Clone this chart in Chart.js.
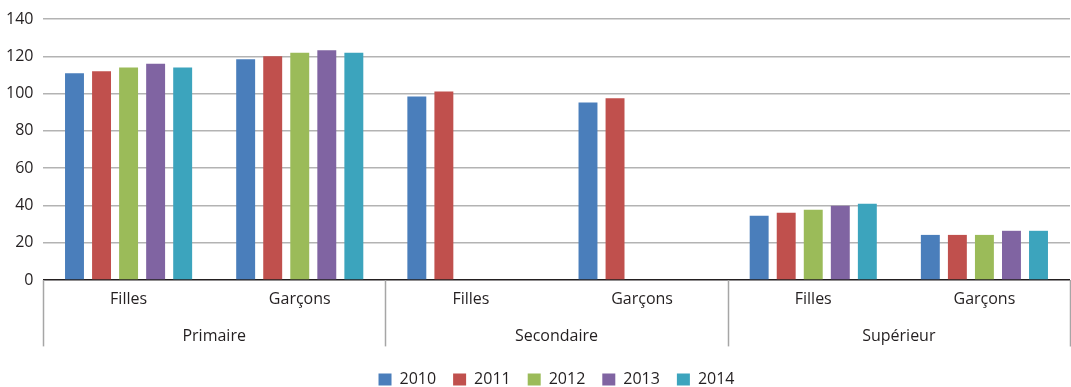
<!DOCTYPE html>
<html>
<head>
<meta charset="utf-8">
<script src="https://cdn.jsdelivr.net/npm/chart.js@4/dist/chart.umd.min.js"></script>
<style>
  html, body { margin: 0; padding: 0; background: #fff; }
  #wrap { width: 1071px; height: 387px; }
</style>
</head>
<body>
<div id="wrap"><canvas id="c"></canvas></div>
<script>
// Enrolment ratios by level and sex
const levels = ['Primaire', 'Secondaire', 'Supérieur'];
const categories = ['Filles', 'Garçons', 'Filles', 'Garçons', 'Filles', 'Garçons'];
const years = ['2010', '2011', '2012', '2013', '2014'];

const v2010 = [111, 118.5, 98.5, 95.3, 34.5, 24.2];
const v2011 = [112, 120, 101.2, 97.5, 36.1, 24.2];
const v2012 = [114, 122, null, null, 37.7, 24.2];
const v2013 = [116, 123.3, null, null, 39.8, 26.4];
const v2014 = [114, 122, null, null, 40.9, 26.4];

const yTicks = [0, 20, 40, 60, 80, 100, 120, 140];
const colors = ['#4a7ebb', '#c0504d', '#9bbb59', '#8064a2', '#3ca4bd'];
const seriesValues = [v2010, v2011, v2012, v2013, v2014];

const textColor = '#231f20';
const font = { family: "'Open Sans', 'Noto Sans', sans-serif", size: 16 };

// Vertical separators between the level groups, below the axis
const groupSeparators = {
  id: 'groupSeparators',
  afterDraw(chart) {
    const x = chart.scales.x;
    const x2 = chart.scales.x2;
    const ctx = chart.ctx;
    const step = (x.right - x.left) / levels.length;
    ctx.save();
    ctx.strokeStyle = '#a6a6a6';
    ctx.lineWidth = 1.5;
    for (let i = 0; i <= levels.length; i++) {
      const px = Math.round(x.left + i * step) + 0.5;
      ctx.beginPath();
      ctx.moveTo(px, chart.chartArea.bottom);
      ctx.lineTo(px, x2.bottom - 8);
      ctx.stroke();
    }
    ctx.restore();
  }
};

new Chart(document.getElementById('c'), {
  type: 'bar',
  data: {
    labels: categories,
    datasets: years.map((y, i) => ({
      label: y,
      data: seriesValues[i],
      backgroundColor: colors[i],
      borderWidth: 0,
      categoryPercentage: 0.79,
      barPercentage: 0.70
    }))
  },
  options: {
    responsive: true,
    maintainAspectRatio: false,
    animation: false,
    layout: { padding: { top: 13, right: 1, left: 0, bottom: -10.4 } },
    plugins: {
      legend: {
        position: 'bottom',
        fullSize: false,
        labels: {
          color: textColor,
          font: font,
          boxWidth: 13,
          boxHeight: 12,
          padding: 17
        }
      },
      tooltip: { enabled: false }
    },
    scales: {
      y: {
        min: 0,
        max: 140,
        afterBuildTicks(axis) { axis.ticks = yTicks.map(v => ({ value: v })); },
        afterFit(axis) { axis.width = 43; },
        ticks: { color: textColor, font: font, padding: 9.5 },
        grid: {
          color: (c) => c.tick.value === 0 ? '#231f20' : '#b3b3b3',
          lineWidth: 1.5,
          drawTicks: false
        },
        border: { display: false }
      },
      x: {
        weight: 0,
        ticks: { color: textColor, font: font, padding: 10, maxRotation: 0 },
        grid: { display: false, drawTicks: false },
        border: { display: false }
      },
      x2: {
        type: 'category',
        position: 'bottom',
        weight: 1,
        labels: levels,
        offset: true,
        ticks: { color: textColor, font: font, padding: 8, maxRotation: 0 },
        grid: { display: false, drawTicks: false },
        border: { display: false }
      }
    }
  },
  plugins: [groupSeparators]
});
</script>
</body>
</html>
